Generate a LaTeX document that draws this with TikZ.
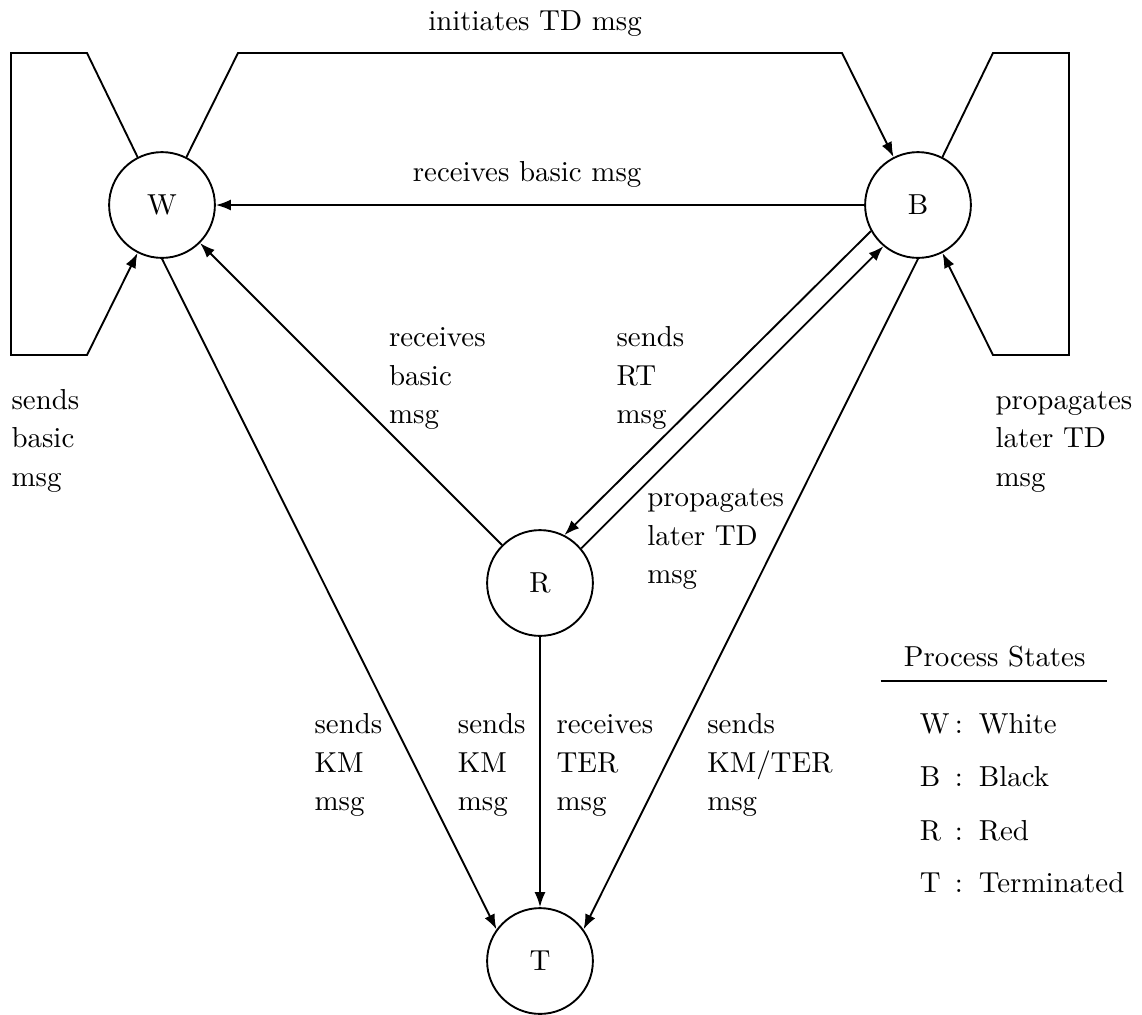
\documentclass[tikz,border=0pt]{standalone}
\usetikzlibrary{arrows.meta}
\renewcommand{\arraystretch}{1.11}
\begin{document}
\begin{tikzpicture}[x=0.346pt,y=-0.346pt,
  state/.style={circle,draw,line width=0.65pt,minimum size=36.6pt,inner sep=0pt},
  conn/.style={line width=0.65pt},
  arr/.style={conn,-{Latex[length=5.2pt,width=3.8pt]}},
  lbl/.style={anchor=base west,inner sep=0pt},
  colon/.style={anchor=base,inner sep=0pt},
]
\useasboundingbox (0,0) rectangle (1142,1014);
% states
\node[state] (W) at (162,205) {W};
\node[state] (B) at (918,205) {B};
\node[state] (R) at (540,583) {R};
\node[state] (T) at (540,961) {T};
% corner points
\coordinate (wl1) at (87,53);
\coordinate (wl2) at (11,53);
\coordinate (wl3) at (11,355);
\coordinate (wl4) at (87,355);
\coordinate (tp1) at (238,53);
\coordinate (tp2) at (842,53);
\coordinate (bl1) at (993,53);
\coordinate (bl2) at (1069,53);
\coordinate (bl3) at (1069,355);
\coordinate (bl4) at (993,355);
% connectors
\draw[arr] (W.117) -- (wl1) -- (wl2) -- (wl3) -- (wl4) -- (W.243);
\draw[arr] (W.63) -- (tp1) -- (tp2) -- (B.117);
\draw[arr] (B.63) -- (bl1) -- (bl2) -- (bl3) -- (bl4) -- (B.297);
\draw[arr] (B.180) -- (W.0);
\draw[arr] (R.135) -- (W.-45);
\draw[arr] (B.209) -- (R.63);
\draw[arr] (R.40) -- (B.230);
\draw[arr] (W.270) -- (T.144);
\draw[arr] (R.270) -- (T.90);
\draw[arr] (B.270) -- (T.36);
% labels
\node[lbl] (ltd) at (427.7,30.7) {initiates TD msg};
\node[lbl] (lrb) at (412.3,181.7) {receives basic msg};
\node[lbl] (lsb) at (11,409.3) {\begin{tabular}[t]{@{}l@{}}sends\\basic\\msg\end{tabular}};
\node[lbl] (lpr) at (995,409.3) {\begin{tabular}[t]{@{}l@{}}propagates\\later TD\\msg\end{tabular}};
\node[lbl] (lrw) at (388.5,346.7) {\begin{tabular}[t]{@{}l@{}}receives\\basic\\msg\end{tabular}};
\node[lbl] (lrt) at (616,346.7) {\begin{tabular}[t]{@{}l@{}}sends\\RT\\msg\end{tabular}};
\node[lbl] (lpm) at (646.7,506.7) {\begin{tabular}[t]{@{}l@{}}propagates\\later TD\\msg\end{tabular}};
\node[lbl] (lk1) at (314,733.9) {\begin{tabular}[t]{@{}l@{}}sends\\KM\\msg\end{tabular}};
\node[lbl] (lk2) at (457.3,733.9) {\begin{tabular}[t]{@{}l@{}}sends\\KM\\msg\end{tabular}};
\node[lbl] (lte) at (556,733.9) {\begin{tabular}[t]{@{}l@{}}receives\\TER\\msg\end{tabular}};
\node[lbl] (lkt) at (706.7,733.9) {\begin{tabular}[t]{@{}l@{}}sends\\KM/TER\\msg\end{tabular}};
% legend
\node[lbl] (ps) at (903.3,666.7) {Process States};
\coordinate (rl) at (880.7,681);
\coordinate (rr) at (1107.3,681);
\draw[conn] (rl) -- (rr);
\node[lbl] (kw) at (919.3,733.3) {W};
\node[colon] (cw) at (959,733.3) {:};
\node[lbl] (vw) at (978.3,733.3) {White};
\node[lbl] (kb) at (919.3,786.7) {B};
\node[colon] (cb) at (959,786.7) {:};
\node[lbl] (vb) at (978.3,786.7) {Black};
\node[lbl] (kr) at (919.3,840) {R};
\node[colon] (cr) at (959,840) {:};
\node[lbl] (vr) at (978.3,840) {Red};
\node[lbl] (kt) at (919.3,892.7) {T};
\node[colon] (ct) at (959,892.7) {:};
\node[lbl] (vt) at (978.3,892.7) {Terminated};
\end{tikzpicture}
\end{document}
